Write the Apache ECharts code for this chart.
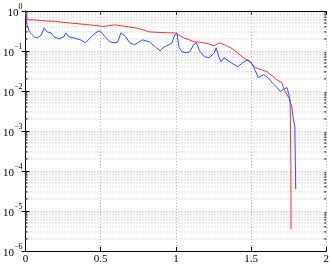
<!DOCTYPE html>
<html><head><meta charset="utf-8">
<script src="https://cdn.jsdelivr.net/npm/echarts@6/dist/echarts.min.js"></script>
<style>html,body{margin:0;padding:0;background:#fff}#c{width:332px;height:265px}</style>
</head><body><div id="c"></div>
<script>
// ---- data ----
const redX = [0, 0.007, 0.013, 0.05, 0.1, 0.15, 0.2, 0.25, 0.3, 0.35, 0.4, 0.45, 0.5, 0.516, 0.55, 0.595, 0.65, 0.732, 0.78, 0.824, 0.9, 0.954, 0.993, 1.02, 1.052, 1.09, 1.124, 1.17, 1.22, 1.255, 1.288, 1.30, 1.33, 1.366, 1.41, 1.45, 1.497, 1.53, 1.57, 1.608, 1.64, 1.673, 1.706, 1.72, 1.74, 1.76, 1.765, 1.766];
const redY = [0.95, 0.7, 0.6, 0.6, 0.58, 0.56, 0.55, 0.52, 0.5, 0.48, 0.46, 0.44, 0.42, 0.41, 0.43, 0.45, 0.42, 0.378, 0.34, 0.30, 0.29, 0.284, 0.284, 0.25, 0.213, 0.19, 0.169, 0.165, 0.15, 0.135, 0.16, 0.157, 0.14, 0.12, 0.09, 0.068, 0.051, 0.038, 0.034, 0.030, 0.024, 0.019, 0.016, 0.011, 0.008, 0.006, 0.0001, 3.5e-6];
const blueX = [0, 0.0065, 0.026, 0.059, 0.078, 0.105, 0.124, 0.144, 0.170, 0.190, 0.222, 0.255, 0.268, 0.288, 0.320, 0.366, 0.399, 0.418, 0.451, 0.484, 0.503, 0.529, 0.562, 0.595, 0.614, 0.634, 0.647, 0.667, 0.693, 0.725, 0.745, 0.778, 0.824, 0.863, 0.895, 0.922, 0.954, 0.974, 0.993, 1.007, 1.020, 1.039, 1.072, 1.092, 1.118, 1.137, 1.157, 1.190, 1.222, 1.255, 1.268, 1.288, 1.301, 1.320, 1.366, 1.412, 1.444, 1.477, 1.497, 1.516, 1.549, 1.582, 1.614, 1.641, 1.673, 1.693, 1.712, 1.739, 1.752, 1.758, 1.771, 1.778, 1.791, 1.797];
const blueY = [1.0, 0.5, 0.30, 0.226, 0.213, 0.253, 0.378, 0.30, 0.284, 0.226, 0.201, 0.226, 0.284, 0.226, 0.213, 0.19, 0.16, 0.19, 0.253, 0.318, 0.30, 0.226, 0.169, 0.16, 0.169, 0.284, 0.284, 0.226, 0.16, 0.143, 0.16, 0.19, 0.169, 0.127, 0.101, 0.127, 0.143, 0.16, 0.253, 0.284, 0.127, 0.0955, 0.090, 0.0955, 0.143, 0.16, 0.101, 0.0717, 0.0677, 0.090, 0.12, 0.0677, 0.0539, 0.0677, 0.051, 0.0405, 0.051, 0.060, 0.0539, 0.0405, 0.0215, 0.0256, 0.0215, 0.0162, 0.0122, 0.0097, 0.0108, 0.0122, 0.0081, 0.0055, 0.0041, 0.0023, 0.0013, 3.5e-5];
const xTicks = [0, 0.5, 1, 1.5, 2];
const yDecades = [-6, -5, -4, -3, -2, -1, 0];
const minorMults = [2, 3, 4, 5, 6, 7, 8, 9];

// ---- build ----
const zip = (a, b) => a.map((v, i) => [v, b[i]]);
const minorVals = [];
yDecades.slice(0, -1).forEach(e => minorMults.forEach(m => minorVals.push(m * Math.pow(10, e))));
const segs = (x0, x1) => { const d = []; minorVals.forEach(v => { d.push([x0, v], [x1, v], null); }); return d; };
const FONT = 'Liberation Serif';
const gridStyle = {color: '#b8b8b8', type: [1, 2], width: 1};

const chart = echarts.init(document.getElementById('c'), null, {renderer: 'canvas'});
const axisLine = {show: true, lineStyle: {color: '#000', width: 1}};
const tick = {inside: true, length: 4, lineStyle: {color: '#000'}};
chart.setOption({
  animation: false,
  grid: {left: 21, right: 5, top: 11, bottom: 13},
  xAxis: [{
    type: 'value', min: 0, max: 2, interval: 0.5,
    axisLine: axisLine, axisTick: tick,
    axisLabel: {fontFamily: FONT, fontSize: 11, color: '#000', margin: 3, formatter: v => String(v)},
    splitLine: {show: true, lineStyle: gridStyle}
  }, {
    type: 'value', min: 0, max: 2, interval: 0.5, position: 'top',
    axisLine: axisLine, axisTick: tick,
    axisLabel: {show: false}, splitLine: {show: false}
  }],
  yAxis: [{
    type: 'log', logBase: 10, min: 1e-6, max: 1,
    axisLine: axisLine, axisTick: tick,
    axisLabel: {
      fontFamily: FONT, color: '#000', margin: 3,
      formatter: v => {
        const e = Math.round(Math.log10(v));
        return '{b|10}{s|' + (e < 0 ? '\u2212' + (-e) : e) + '}';
      },
      rich: {
        b: {fontFamily: FONT, fontSize: 11, color: '#000', lineHeight: 16, verticalAlign: 'bottom'},
        s: {fontFamily: FONT, fontSize: 8, color: '#000', lineHeight: 16, verticalAlign: 'top', padding: [0, 0, 6, 0]}
      }
    },
    splitLine: {show: true, lineStyle: gridStyle}
  }, {
    type: 'log', logBase: 10, min: 1e-6, max: 1, position: 'right',
    axisLine: axisLine, axisTick: tick,
    axisLabel: {show: false}, splitLine: {show: false}
  }],
  series: [{
    type: 'line', silent: true, symbol: 'none', connectNulls: false,
    data: segs(0, 2), lineStyle: gridStyle, z: 1
  }, {
    type: 'line', silent: true, symbol: 'none', connectNulls: false,
    data: segs(0, 0.0135), lineStyle: {color: '#000', width: 1}, z: 2
  }, {
    type: 'line', silent: true, symbol: 'none', connectNulls: false,
    data: segs(1.9865, 2), lineStyle: {color: '#000', width: 1}, z: 2
  }, {
    type: 'line', data: zip(redX, redY), symbol: 'none', smooth: false,
    lineStyle: {color: '#ff2a2a', width: 1}, z: 3
  }, {
    type: 'line', data: zip(blueX, blueY), symbol: 'none', smooth: false,
    lineStyle: {color: '#2a4cff', width: 1}, z: 4
  }]
});
</script></body></html>
